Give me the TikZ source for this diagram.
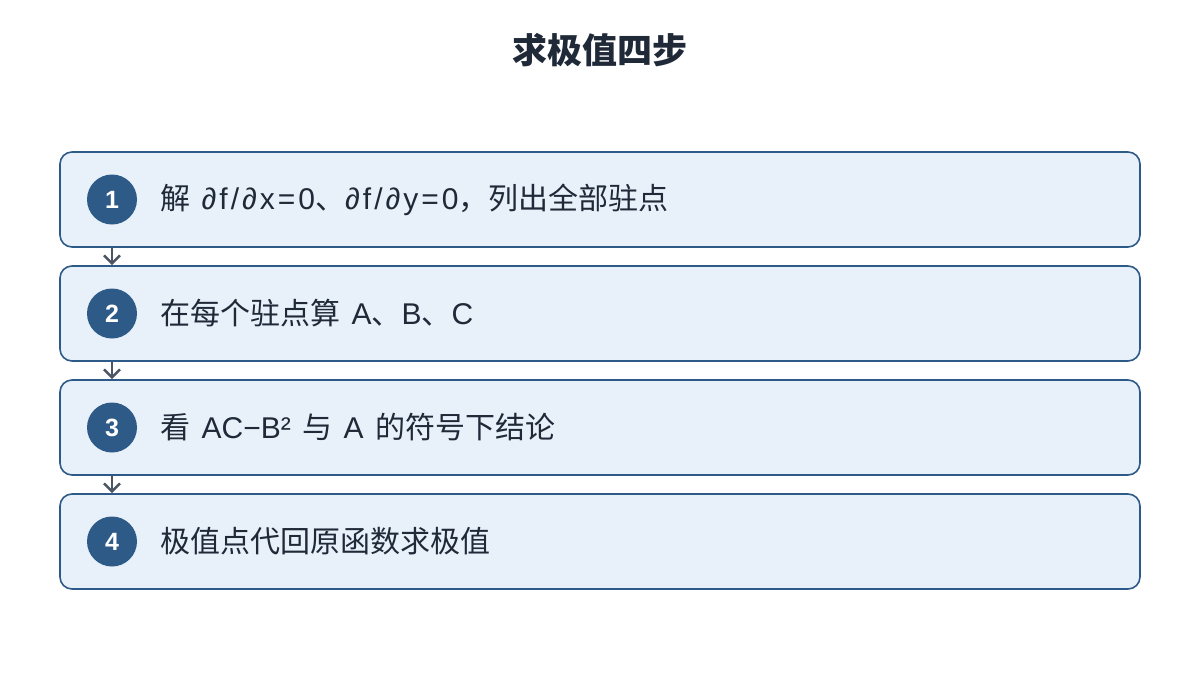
\documentclass[tikz,border=0pt]{standalone}
\usepackage{fontspec}
\setmainfont{Liberation Sans}
\newfontfamily\cjk{Noto Sans CJK SC}
\newfontfamily\widelat[LetterSpace=10]{Liberation Sans}
\usetikzlibrary{arrows.meta}
\definecolor{boxfill}{HTML}{E8F0FA}
\definecolor{boxdraw}{HTML}{2E5A88}
\definecolor{txt}{HTML}{1F2937}
\definecolor{arr}{HTML}{4B5563}
\newcommand{\zh}[1]{{\cjk #1}}
\newcommand{\wlat}[1]{{\widelat #1}}
\newcommand{\wsp}{\hspace{0.38em}}
\tikzset{
  stepbox/.style={draw=boxdraw, fill=boxfill, line width=1.6pt, rounded corners=12pt, minimum width=1080pt, minimum height=95pt, inner sep=0pt},
  numcirc/.style={circle, fill=boxdraw, minimum size=50pt, inner sep=0pt, text=white, font=\fontsize{25pt}{27pt}\selectfont\bfseries},
  steptext/.style={anchor=west, text=txt, font=\fontsize{30pt}{32pt}\selectfont, inner sep=0pt},
  conn/.style={draw=arr, line width=2.5pt, -{Straight Barb[length=8pt,width=16pt,line width=2.5pt]}}
}
\begin{document}
\begin{tikzpicture}[x=1pt,y=-1pt]
\useasboundingbox (0,0) rectangle (1200,675);
\node[text=txt, font=\fontsize{35pt}{38pt}\selectfont\bfseries\cjk] (title) at (600,50) {求极值四步};
\node[stepbox] (b1) at (600,199.5) {};
\node[stepbox] (b2) at (600,313.5) {};
\node[stepbox] (b3) at (600,427.5) {};
\node[stepbox] (b4) at (600,541.5) {};
\node[numcirc] (c1) at (112,199.5) {1};
\node[numcirc] (c2) at (112,313.5) {2};
\node[numcirc] (c3) at (112,427.5) {3};
\node[numcirc] (c4) at (112,541.5) {4};
\node[steptext] (t1) at (160,199.5) {\zh{解}\wsp\wlat{∂f/∂x=0}\zh{、}\wlat{∂f/∂y=0}\zh{，列出全部驻点}};
\node[steptext] (t2) at (160,313.5) {\zh{在每个驻点算}\wsp A\zh{、}B\zh{、}C};
\node[steptext] (t3) at (160,427.5) {\zh{看}\wsp AC−B²\wsp\zh{与}\wsp A\wsp\zh{的符号下结论}};
\node[steptext] (t4) at (160,541.5) {\zh{极值点代回原函数求极值}};
\draw[conn] (b1.south -| c1) -- (b2.north -| c1);
\draw[conn] (b2.south -| c2) -- (b3.north -| c2);
\draw[conn] (b3.south -| c3) -- (b4.north -| c3);
\end{tikzpicture}
\end{document}
